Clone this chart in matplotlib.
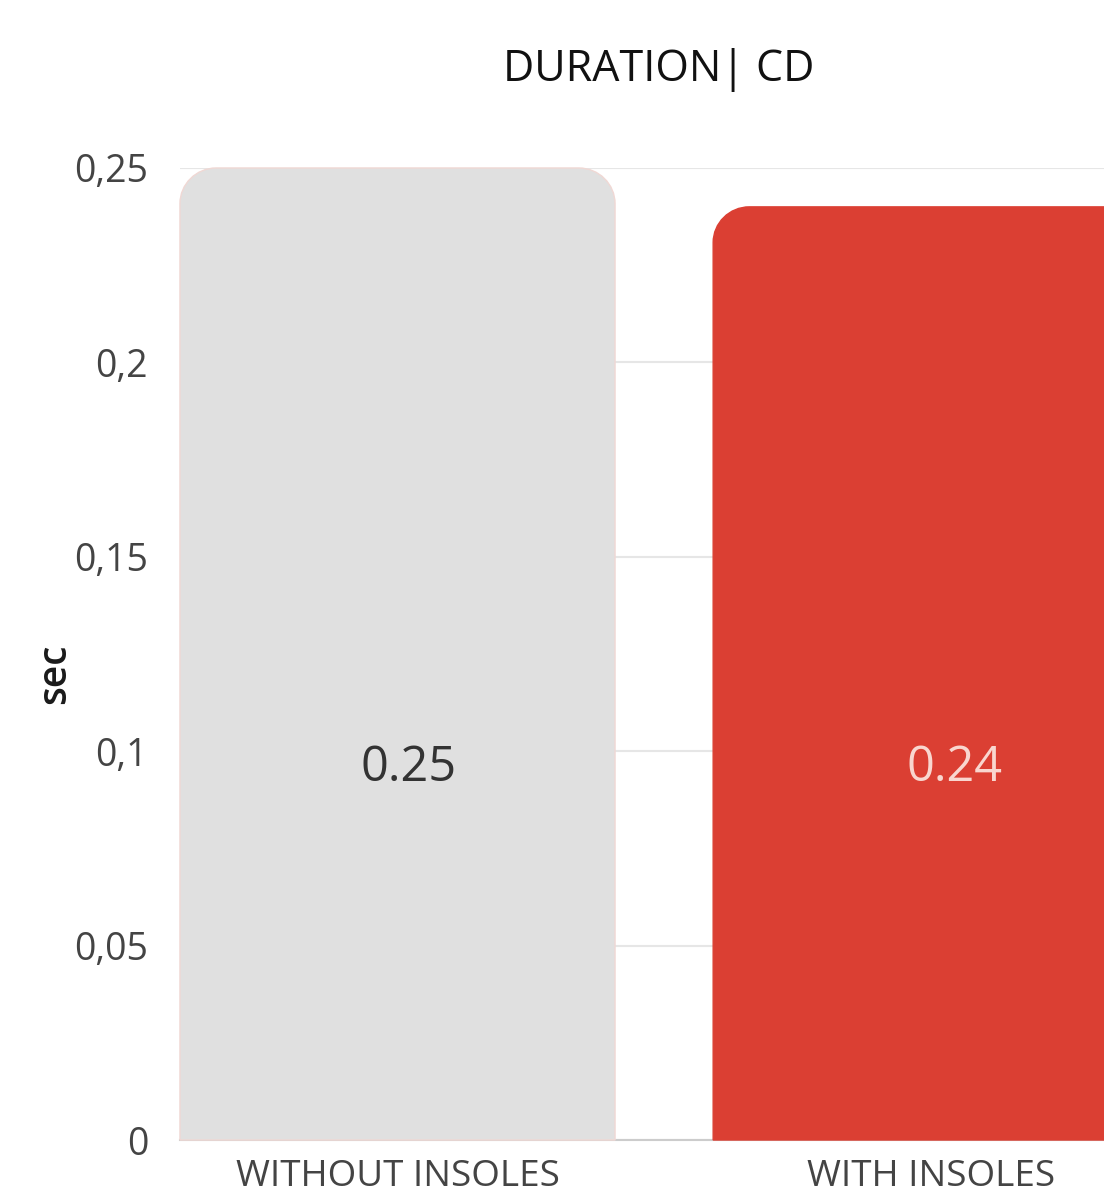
import matplotlib
matplotlib.use("Agg")
import matplotlib.pyplot as plt
from matplotlib.path import Path
from matplotlib.patches import PathPatch

categories = ["WITHOUT INSOLES", "WITH INSOLES"]
values = [0.25, 0.24]
value_labels = ["0.25", "0.24"]
yticks = [0, 0.05, 0.1, 0.15, 0.2, 0.25]
ytick_labels = ["0", "0,05", "0,1", "0,15", "0,2", "0,25"]

bar_colors = ["#e0e0e0", "#db3f33"]
edge_colors = ["#f0d8d4", "#db3f33"]
text_colors = ["#333333", "#f9d6cf"]
label_dx = [8, 17]  # points, value labels sit a little right of centre

plt.rcParams['font.family'] = ['Open Sans', 'DejaVu Sans']

fig = plt.figure(figsize=(11.04, 11.99), dpi=100)
ax = fig.add_axes((0.163, 0.0492, 0.837, 0.8107))

x = list(range(len(categories)))
bars = ax.bar(x, values, width=0.816, color=bar_colors)
ax.set_xlim(-0.408, 1.325)
ax.set_ylim(0, 0.25)


def rounded_top(rect, rx, ry, fc, ec):
    x0, y0 = rect.get_x(), rect.get_y()
    w, h = rect.get_width(), rect.get_height()
    x1, y1 = x0 + w, y0 + h
    k = 0.5523
    verts = [
        (x0, y0), (x0, y1 - ry),
        (x0, y1 - ry + k * ry), (x0 + rx - k * rx, y1), (x0 + rx, y1),
        (x1 - rx, y1),
        (x1 - rx + k * rx, y1), (x1, y1 - ry + k * ry), (x1, y1 - ry),
        (x1, y0), (x0, y0),
    ]
    codes = [Path.MOVETO, Path.LINETO,
             Path.CURVE4, Path.CURVE4, Path.CURVE4,
             Path.LINETO,
             Path.CURVE4, Path.CURVE4, Path.CURVE4,
             Path.LINETO, Path.CLOSEPOLY]
    return PathPatch(Path(verts, codes), facecolor=fc, edgecolor=ec,
                     linewidth=1.0, zorder=3, clip_on=False)


for rect, fc, ec in zip(bars, bar_colors, edge_colors):
    rect.set_visible(False)
    ax.add_patch(rounded_top(rect, 0.068, 0.0092, fc, ec))

for xi, lab, tc, dx in zip(x, value_labels, text_colors, label_dx):
    ax.annotate(lab, (xi, 0.0955), xytext=(dx, 0), textcoords='offset points',
                ha='center', va='center', fontsize=35, color=tc, zorder=4)

ax.set_yticks(yticks)
ax.set_yticklabels(ytick_labels)
ax.set_xticks(x)
ax.set_xticklabels(categories)
ax.tick_params(axis='y', length=0, pad=23, labelsize=27, labelcolor='#444444')
ax.tick_params(axis='x', length=0, pad=14, labelsize=26.5, labelcolor='#444444')

ax.yaxis.grid(True, color='#e6e6e6', linewidth=1.5, zorder=0)
ax.set_axisbelow(True)
for side in ['top', 'right', 'left']:
    ax.spines[side].set_visible(False)
ax.spines['bottom'].set_color('#cccccc')
ax.spines['bottom'].set_linewidth(1.5)

fig.text(0.5965, 0.942, "DURATION| CD", ha='center', va='center',
         fontsize=31, fontweight='medium', color='#111111')
fig.text(0.05, 0.438, "sec", ha='center', va='center', rotation=90,
         fontsize=28, fontweight='semibold', color='#1a1a1a')

fig.savefig("out.png", dpi=100)
